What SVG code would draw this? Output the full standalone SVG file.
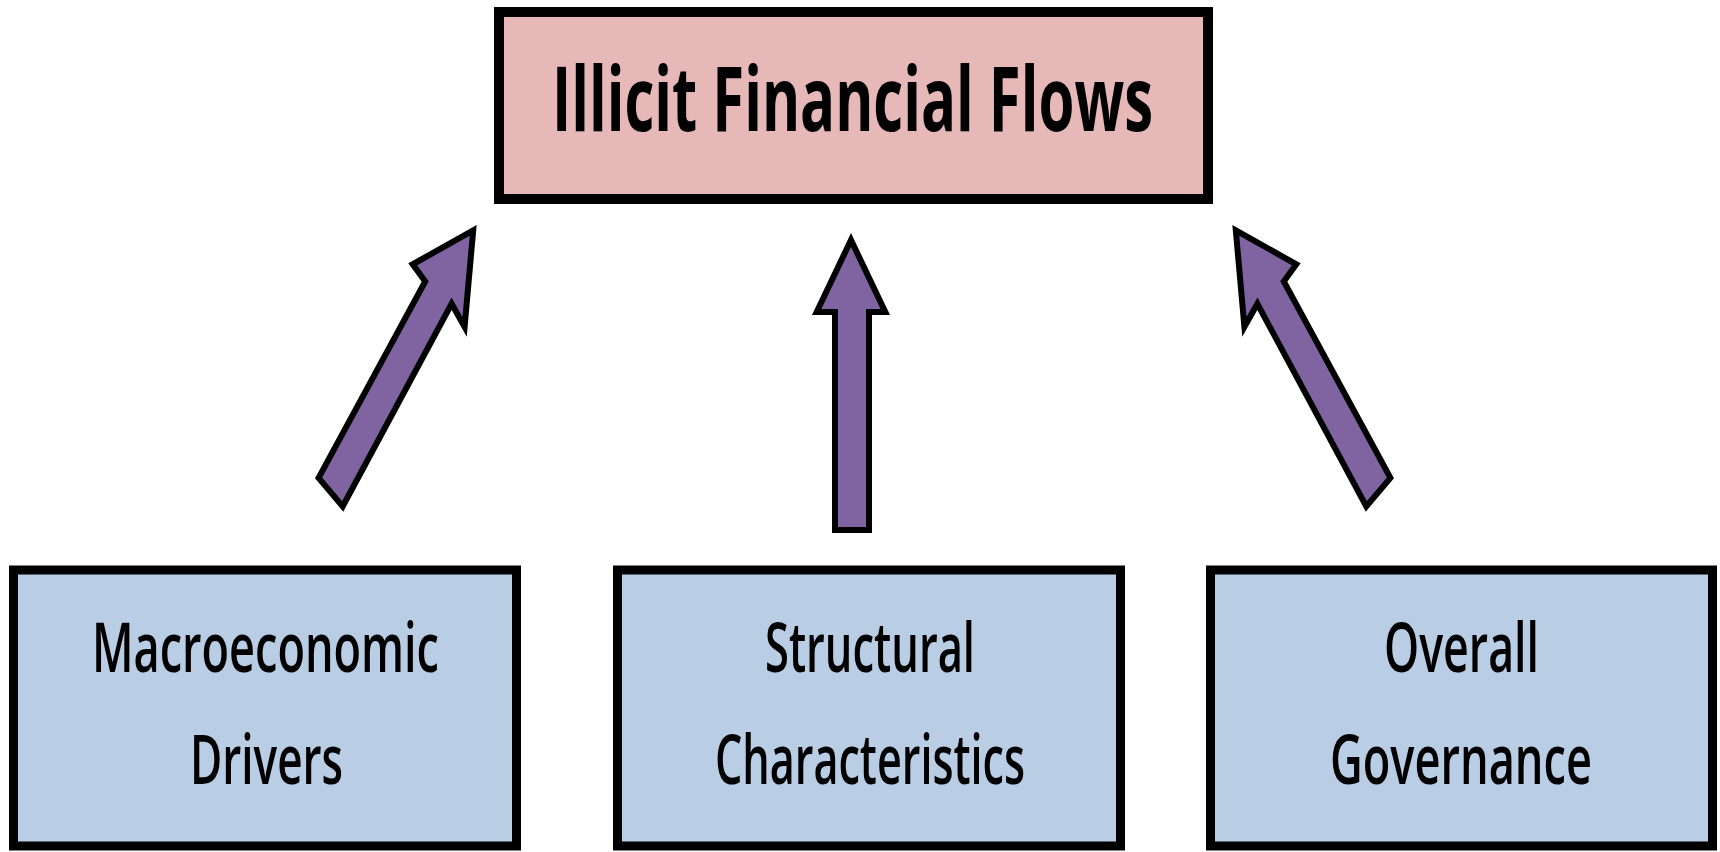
<svg xmlns="http://www.w3.org/2000/svg" width="1720" height="852" viewBox="0 0 1720 852">
<style>
.top{fill:#e6b9b8;stroke:#000;stroke-width:10}
.box{fill:#b9cde5;stroke:#000;stroke-width:9}
.arrow{fill:#8064a2;stroke:#000;stroke-width:6;stroke-linejoin:miter;stroke-miterlimit:10}
.t1{font-family:"Open Sans","Liberation Sans",sans-serif;font-weight:700;font-size:90px;fill:#000;text-anchor:middle}
.t2{font-family:"Open Sans","Liberation Sans",sans-serif;font-weight:600;font-size:68px;fill:#000;text-anchor:middle}
</style>
<rect width="1720" height="852" fill="#fff"/>
<g id="connectors">
<polygon class="arrow" points="473.2,230.4 412.7,264.3 425.2,281.5 318.6,477.9 342.7,506.4 451.6,303.8 464.6,326.8"/>
<polygon class="arrow" points="851,240 885.3,312 869,312 869,530 835,530 835,312 816.7,312"/>
<polygon class="arrow" points="1235.8,230.4 1296.3,264.3 1283.8,281.5 1390.4,477.9 1366.3,506.4 1257.4,303.8 1244.4,326.8"/>
</g>
<g id="node-iff">
<rect class="top" x="499" y="12" width="709" height="187"/>
<text class="t1" x="852.5" y="131" textLength="601" lengthAdjust="spacingAndGlyphs">Illicit Financial Flows</text>
</g>
<g id="node-macro">
<rect class="box" x="13.5" y="570" width="503" height="276"/>
<text class="t2" x="265.5" y="672" textLength="347" lengthAdjust="spacingAndGlyphs">Macroeconomic</text>
<text class="t2" x="266.5" y="784" textLength="153" lengthAdjust="spacingAndGlyphs">Drivers</text>
</g>
<g id="node-structural">
<rect class="box" x="617.5" y="570" width="503" height="276"/>
<text class="t2" x="870" y="672" textLength="210" lengthAdjust="spacingAndGlyphs">Structural</text>
<text class="t2" x="870" y="784" textLength="310" lengthAdjust="spacingAndGlyphs">Characteristics</text>
</g>
<g id="node-governance">
<rect class="box" x="1210.5" y="570" width="502" height="276"/>
<text class="t2" x="1461.5" y="672" textLength="155" lengthAdjust="spacingAndGlyphs">Overall</text>
<text class="t2" x="1461" y="784" textLength="262" lengthAdjust="spacingAndGlyphs">Governance</text>
</g>
</svg>
